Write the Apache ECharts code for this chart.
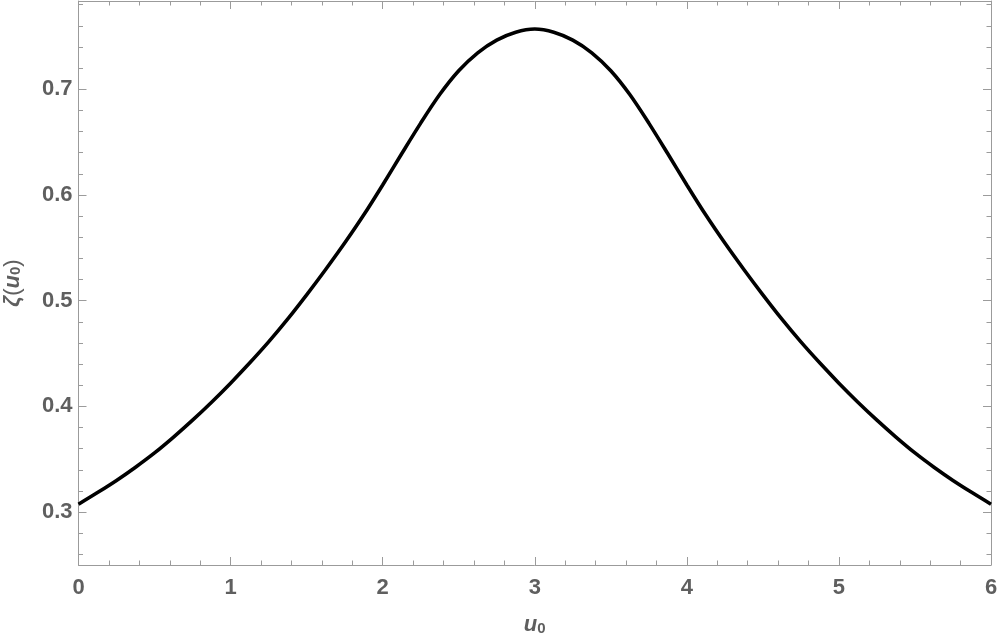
<!DOCTYPE html>
<html>
<head>
<meta charset="utf-8">
<script src="https://cdn.jsdelivr.net/npm/echarts@6/dist/echarts.min.js"></script>
<style>
html,body{margin:0;padding:0;background:#fff;}
#chart{width:1000px;height:639px;}
</style>
</head>
<body>
<div id="chart"></div>
<script>
// Data
var uValues = [0, 0.125, 0.25, 0.375, 0.5, 0.625, 0.75, 0.875, 1, 1.125, 1.25, 1.375, 1.5, 1.625, 1.75, 1.875,
               2, 2.125, 2.25, 2.375, 2.5, 2.625, 2.75, 2.875, 3,
               3.125, 3.25, 3.375, 3.5, 3.625, 3.75, 3.875, 4, 4.125, 4.25, 4.375, 4.5, 4.625, 4.75, 4.875,
               5, 5.125, 5.25, 5.375, 5.5, 5.625, 5.75, 5.875, 6];
var zetaValues = [0.3075, 0.3185, 0.330, 0.3425, 0.356, 0.371, 0.387, 0.404, 0.422, 0.441, 0.461, 0.4825, 0.5055, 0.5295, 0.5545, 0.581,
                  0.6095, 0.639, 0.668, 0.695, 0.7175, 0.7345, 0.7465, 0.754, 0.757,
                  0.754, 0.7465, 0.7345, 0.7175, 0.695, 0.668, 0.639, 0.6095, 0.581, 0.5545, 0.5295, 0.5055, 0.4825, 0.461, 0.441,
                  0.422, 0.404, 0.387, 0.371, 0.356, 0.3425, 0.330, 0.3185, 0.3075];
var yTickValues = [0.3, 0.4, 0.5, 0.6, 0.7];
var yMinorTickValues = [0.26, 0.28, 0.32, 0.34, 0.36, 0.38, 0.42, 0.44, 0.46, 0.48,
                        0.52, 0.54, 0.56, 0.58, 0.62, 0.64, 0.66, 0.68, 0.72, 0.74, 0.76, 0.78];

var FONT = 'Liberation Sans';
var TXT = '#5f5f5f';
var FRAME = '#9b9b9b';
var FS = 22;
var yMin = 0.25, yMax = 0.7835;

var seriesData = uValues.map(function (u, i) { return [u, zetaValues[i]]; });

function yAxisBase(pos) {
  return {
    type: 'value', position: pos, min: yMin, max: yMax,
    splitLine: {show: false},
    axisLine: {show: true, lineStyle: {color: FRAME, width: 1}},
    axisLabel: {show: false},
    axisTick: {show: false}
  };
}

var yAxes = [];
var y0 = yAxisBase('left');
y0.axisLabel = {show: true, customValues: yTickValues, margin: 6, color: TXT,
  fontFamily: FONT, fontWeight: 'bold', fontSize: FS,
  formatter: function (v) { return v.toFixed(1); }};
y0.axisTick = {show: true, inside: true, length: 8, customValues: yTickValues,
  lineStyle: {color: FRAME, width: 1}};
y0.name = '{z|ζ}{p|(}{u|u}{s|0}{p|)}';
y0.nameLocation = 'middle';
y0.nameRotate = 90;
y0.nameGap = 55;
y0.nameTextStyle = {
  color: TXT, fontFamily: FONT, fontSize: FS, fontWeight: 'bold',
  rich: {
    z: {fontFamily: FONT, fontSize: FS, fontStyle: 'italic', fontWeight: 'bold', color: TXT, verticalAlign: 'bottom', lineHeight: 24},
    p: {fontFamily: FONT, fontSize: FS, fontWeight: 'normal', color: TXT, verticalAlign: 'bottom', lineHeight: 24},
    u: {fontFamily: FONT, fontSize: FS, fontStyle: 'italic', fontWeight: 'bold', color: TXT, verticalAlign: 'bottom', lineHeight: 24},
    s: {fontFamily: FONT, fontSize: 15, fontWeight: 'bold', color: TXT, verticalAlign: 'bottom', lineHeight: 14}
  }
};
yAxes.push(y0);

var y1 = yAxisBase('left');
y1.axisLine = {show: false};
y1.axisTick = {show: true, inside: true, length: 4.5, customValues: yMinorTickValues,
  lineStyle: {color: FRAME, width: 1}};
yAxes.push(y1);

var y2 = yAxisBase('right');
y2.axisTick = {show: true, inside: true, length: 8, customValues: yTickValues,
  lineStyle: {color: FRAME, width: 1}};
yAxes.push(y2);

var y3 = yAxisBase('right');
y3.axisLine = {show: false};
y3.axisTick = {show: true, inside: true, length: 4.5, customValues: yMinorTickValues,
  lineStyle: {color: FRAME, width: 1}};
yAxes.push(y3);

function xAxisBase(pos) {
  return {
    type: 'value', position: pos, min: 0, max: 6, interval: 1,
    splitLine: {show: false},
    axisLine: {show: true, onZero: false, lineStyle: {color: FRAME, width: 1}},
    axisTick: {show: true, inside: true, length: 8, lineStyle: {color: FRAME, width: 1}},
    minorTick: {show: true, splitNumber: 5, length: 4.5, lineStyle: {color: FRAME, width: 1}},
    axisLabel: {show: false}
  };
}
var x0 = xAxisBase('bottom');
x0.axisLabel = {show: true, margin: 12, color: TXT, fontFamily: FONT, fontWeight: 'bold', fontSize: FS,
  formatter: function (v) { return String(v); }};
x0.name = '{u|u}{s|0}';
x0.nameLocation = 'middle';
x0.nameGap = 47;
x0.nameTextStyle = {
  color: TXT, fontFamily: FONT, fontSize: FS, fontWeight: 'bold',
  rich: {
    u: {fontFamily: FONT, fontSize: FS, fontStyle: 'italic', fontWeight: 'bold', color: TXT, verticalAlign: 'bottom', lineHeight: 24},
    s: {fontFamily: FONT, fontSize: 15, fontWeight: 'bold', color: TXT, verticalAlign: 'bottom', lineHeight: 14}
  }
};
var x1 = xAxisBase('top');

var chart = echarts.init(document.getElementById('chart'), null, {renderer: 'canvas'});
chart.setOption({
  animation: false,
  backgroundColor: '#ffffff',
  grid: {left: 78.5, right: 9, top: 1, bottom: 74, containLabel: false, outerBoundsMode: 'none'},
  xAxis: [x0, x1],
  yAxis: yAxes,
  series: [{
    type: 'line',
    xAxisIndex: 0, yAxisIndex: 0,
    data: seriesData,
    smooth: 0.3,
    showSymbol: false,
    symbol: 'none',
    lineStyle: {color: '#000000', width: 3.6},
    clip: true
  }]
});
</script>
</body>
</html>
